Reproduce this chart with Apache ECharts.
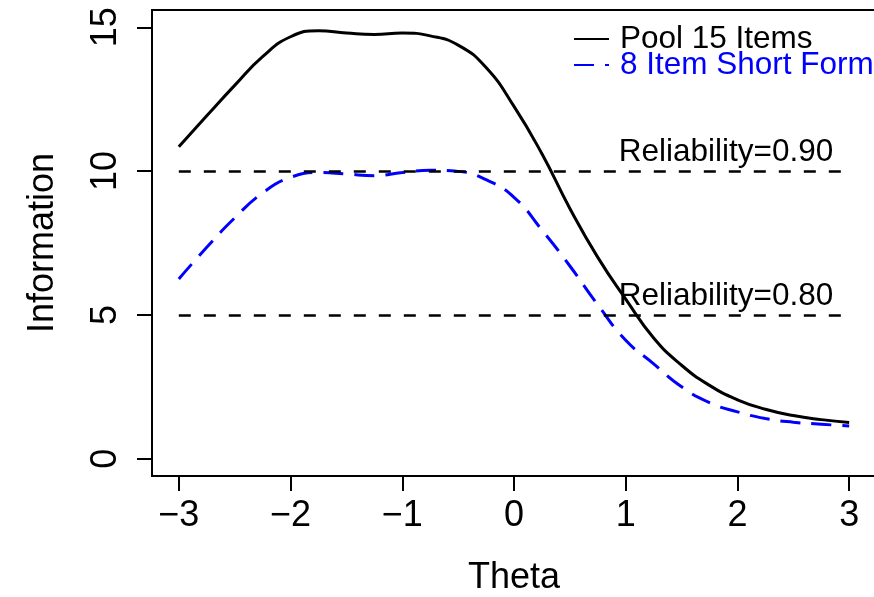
<!DOCTYPE html>
<html>
<head>
<meta charset="utf-8">
<script src="https://cdn.jsdelivr.net/npm/echarts@6/dist/echarts.min.js"></script>
<style>html,body{margin:0;padding:0;background:#fff;}#c{width:874px;height:597px;}</style>
</head>
<body>
<div id="c"></div>
<script>
// ---- data ----
var theta = [-3, -2.75, -2.5, -2.25, -2, -1.75, -1.5, -1.25, -1, -0.75, -0.5, -0.25, 0, 0.25, 0.5, 0.75, 1, 1.25, 1.5, 1.75, 2, 2.25, 2.5, 2.75, 3];
var pool15 = [10.85, 11.92, 12.98, 13.98, 14.67, 14.88, 14.8, 14.75, 14.8, 14.7, 14.38, 13.6, 12.25, 10.6, 8.7, 7.0, 5.55, 4.2, 3.25, 2.55, 2.05, 1.72, 1.5, 1.36, 1.26];
var short8 = [6.25, 7.35, 8.37, 9.24, 9.78, 9.95, 9.9, 9.84, 9.95, 10.03, 9.99, 9.7, 9.09, 7.95, 6.7, 5.35, 4.12, 3.3, 2.5, 1.95, 1.63, 1.4, 1.27, 1.2, 1.14];
var seriesNames = ['Pool 15 Items', '8 Item Short Form'];
var refValues = [10, 5];
var refLabels = ['Reliability=0.90', 'Reliability=0.80'];
var xTicks = [-3, -2, -1, 0, 1, 2, 3];
var yTicks = [0, 5, 10, 15];

var FONT = 'Liberation Sans, Arial, Helvetica, sans-serif';
function pairs(xs, ys) { return xs.map(function (x, i) { return [x, ys[i]]; }); }
function fmt(v) { return v < 0 ? '\u2212' + Math.abs(v) : String(v); }

var xMin = theta[0], xMax = theta[theta.length - 1];

var chart = echarts.init(document.getElementById('c'), null, { renderer: 'canvas' });
chart.setOption({
  animation: false,
  backgroundColor: '#fff',
  grid: { left: 152, top: 10, width: 724, height: 466, outerBoundsMode: 'none', containLabel: false, show: true, borderColor: '#000', borderWidth: 2, backgroundColor: 'transparent' },
  xAxis: {
    type: 'value', min: -3.24, max: 3.24,
    name: 'Theta', nameLocation: 'middle', nameGap: 84,
    nameTextStyle: { fontFamily: FONT, fontSize: 36, color: '#000' },
    axisLine: { show: false, onZero: false },
    splitLine: { show: false },
    axisTick: { show: true, length: 15, lineStyle: { color: '#000', width: 2 }, customValues: xTicks },
    axisLabel: { customValues: xTicks, formatter: fmt, fontFamily: FONT, fontSize: 36, color: '#000', margin: 22 }
  },
  yAxis: {
    type: 'value', min: -0.6, max: 15.6,
    name: 'Information', nameLocation: 'middle', nameGap: 91,
    nameTextStyle: { fontFamily: FONT, fontSize: 36, color: '#000' },
    axisLine: { show: false, onZero: false },
    splitLine: { show: false },
    axisTick: { show: true, length: 15, lineStyle: { color: '#000', width: 2 }, customValues: yTicks },
    axisLabel: { customValues: yTicks, rotate: 90, fontFamily: FONT, fontSize: 36, color: '#000', margin: 28 }
  },
  legend: {
    orient: 'vertical', left: 568, top: 18, itemGap: -6,
    itemWidth: 35, itemHeight: 14,
    itemStyle: { opacity: 0 },
    data: [
      { name: seriesNames[0], textStyle: { color: '#000' } },
      { name: seriesNames[1], textStyle: { color: '#0000ff' } }
    ],
    textStyle: { fontFamily: FONT, fontSize: 31.5, lineHeight: 26, padding: [0, 0, 0, 6] }
  },
  series: [
    {
      name: seriesNames[0], type: 'line', data: pairs(theta, pool15),
      smooth: 0.5, showSymbol: false, symbol: 'none',
      lineStyle: { color: '#000', width: 3 }, itemStyle: { color: '#000' },
      markLine: {
        silent: true, symbol: 'none',
        lineStyle: { color: '#000', width: 2.5, type: [12, 13] },
        label: { show: true, position: 'insideEndTop', fontFamily: FONT, fontSize: 31.5, color: '#000', distance: [16, 3] },
        data: refValues.map(function (v, i) {
          return [{ coord: [xMin, v], label: { formatter: refLabels[i] } }, { coord: [xMax, v] }];
        })
      }
    },
    {
      name: seriesNames[1], type: 'line', data: pairs(theta, short8),
      smooth: 0.5, showSymbol: false, symbol: 'none',
      lineStyle: { color: '#0000ff', width: 3, type: [20, 11] }, itemStyle: { color: '#0000ff' }
    }
  ]
});
</script>
</body>
</html>
